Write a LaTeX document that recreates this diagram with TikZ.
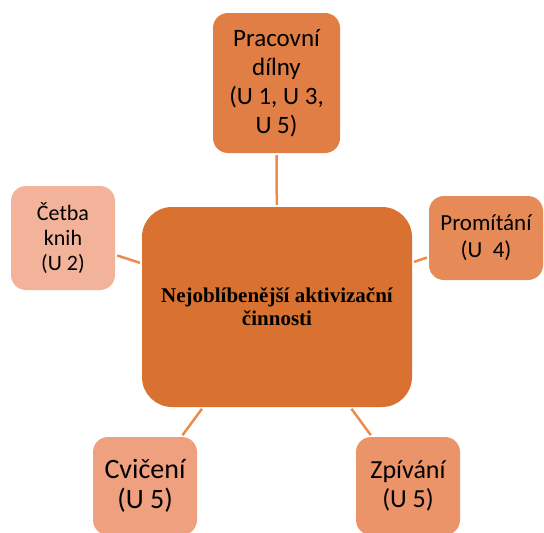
\documentclass[tikz,border=0pt]{standalone}
\usepackage{fontspec}
\setmainfont{Carlito}
\newfontfamily\hubfont{Liberation Serif}
\usepackage{tikz}
\definecolor{hubor}{HTML}{D97230}
\definecolor{pracor}{HTML}{E07E45}
\definecolor{cetor}{HTML}{F3B39B}
\definecolor{promor}{HTML}{E68A58}
\definecolor{cvicor}{HTML}{EFA07F}
\definecolor{zpivor}{HTML}{EC9469}
\definecolor{linkor}{HTML}{EE8A4A}

\begin{document}
\begin{tikzpicture}[
    x=1pt, y=-1pt,
    leaf/.style={
        fill=#1, rounded corners=15pt, align=center, inner sep=2pt
    },
    hubbox/.style={
        fill=hubor, rounded corners=30pt, align=center,
        minimum width=270pt, minimum height=200pt,
        font=\hubfont\bfseries\fontsize{21}{23}\selectfont
    },
    link/.style={
        draw=linkor, line width=2.5pt, shorten <=2pt, shorten >=2pt
    }
]

\useasboundingbox (0,0) rectangle (544,533);

% ===== CENTRE =====
\node[hubbox] (hub) at (277, 307) {Nejoblíbenější aktivizační\\činnosti};

% ===== ACTIVITIES =====
\node[leaf=pracor, minimum width=127pt, minimum height=140pt,
      font=\fontsize{25}{29}\selectfont] (prac) at (276.5, 83)
    {Pracovní\\dílny\\(U 1, U 3,\\U 5)};

\node[leaf=cetor, minimum width=104pt, minimum height=104pt,
      font=\fontsize{22}{25}\selectfont] (cet) at (63, 238)
    {Četba\\knih\\(U 2)};

\node[leaf=promor, minimum width=114pt, minimum height=84pt,
      font=\fontsize{23}{27}\selectfont] (prom) at (486, 238)
    {Promítání\\(U\ \ 4)};

\node[leaf=cvicor, minimum width=104pt, minimum height=98pt,
      font=\fontsize{28}{30}\selectfont] (cvic) at (145, 486)
    {Cvičení\\(U 5)};

\node[leaf=zpivor, minimum width=104pt, minimum height=98pt,
      font=\fontsize{26}{29}\selectfont] (zpiv) at (408, 486)
    {Zpívání\\(U 5)};

% Connectors — plain lines to the centre
\foreach \n in {prac, cet, prom, cvic, zpiv} {
    \draw[link] (\n) -- (hub);
}

\end{tikzpicture}
\end{document}
